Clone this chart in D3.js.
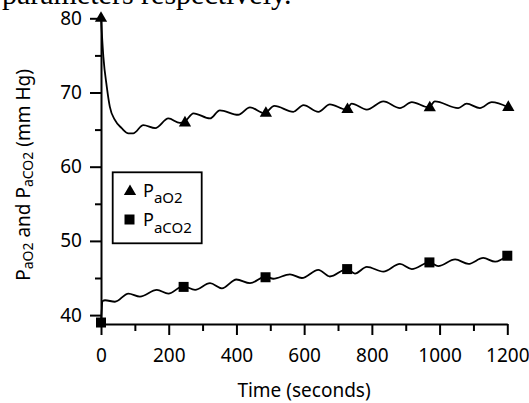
<!DOCTYPE html>
<html lang="en">
<head>
<meta charset="UTF-8">
<title>PaO2 and PaCO2</title>
<script src="https://d3js.org/d3.v7.min.js"></script>
<style>
  body { margin: 0; background: #fff; }
  svg { display: block; font-family: "Noto Sans", sans-serif; }
</style>
</head>
<body>
<div id="chart"></div>
<script>
// PaO2 curve (seconds, mm Hg) at peaks and troughs
const timeO2 = [0, 7, 17, 26, 41, 61, 81, 95, 125, 160, 199, 233, 248, 273, 322, 351, 405, 440, 482, 512, 568, 598, 642, 676, 725, 740, 785, 834, 883, 918, 968, 986, 1055, 1080, 1119, 1154, 1203];
const valueO2 = [80, 74.8, 70.8, 68.1, 66.3, 65.2, 64.5, 64.5, 65.6, 65.2, 66.5, 65.9, 66.1, 67.2, 66.5, 67.6, 67.0, 68.0, 67.2, 68.2, 67.4, 68.3, 67.4, 68.4, 67.7, 68.5, 67.7, 68.8, 67.9, 68.7, 68.0, 68.8, 67.9, 68.5, 67.9, 68.7, 68.0];

// PaCO2 curve
const timeCO2 = [0, 5, 12, 41, 81, 115, 165, 199, 243, 278, 322, 357, 400, 440, 487, 509, 558, 593, 642, 676, 726, 750, 785, 834, 883, 918, 970, 996, 1046, 1085, 1129, 1164, 1200];
const valueCO2 = [39, 41.9, 42.0, 41.8, 42.9, 42.5, 43.4, 42.9, 43.9, 43.4, 44.3, 43.6, 44.8, 44.3, 45.2, 44.9, 45.5, 45.0, 46.1, 45.2, 46.2, 45.6, 46.5, 45.85, 46.9, 46.2, 47.1, 46.6, 47.5, 46.9, 47.7, 47.2, 48.0];

// sampled points (markers)
const markTimeO2 = [0, 248, 487, 728, 971, 1203];
const markValueO2 = [80, 65.9, 67.2, 67.7, 67.95, 68.0];
const markTimeCO2 = [0, 244, 486, 727, 970, 1200];
const markValueCO2 = [39.0, 43.8, 45.1, 46.2, 47.1, 48.0];

const xMajor = [0, 200, 400, 600, 800, 1000, 1200];
const xMinor = [100, 300, 500, 700, 900, 1100];
const yMajor = [40, 50, 60, 70, 80];
const yMinor = [45, 55, 65, 75];

const W = 529, H = 403;

const svg = d3.select("#chart").append("svg")
  .attr("width", W)
  .attr("height", H);

// bit of the paper's text above the figure, cut by the crop
svg.append("text")
  .attr("x", 2)
  .attr("y", 4)
  .attr("font-family", "Liberation Serif, serif")
  .attr("font-size", 30)
  .text("parameters respectively.");

const x = d3.scaleLinear().domain([0, 1200]).range([101, 507.3]);
const y = d3.scaleLinear().domain([38.8, 80]).range([324, 18.3]);

// axes
const gx = svg.append("g").attr("transform", `translate(0,${y(38.8)})`);
gx.call(d3.axisBottom(x).tickValues(xMajor).tickSize(11).tickSizeOuter(0).tickPadding(14).tickFormat(d3.format("d")));
gx.append("g").call(d3.axisBottom(x).tickValues(xMinor).tickSize(7).tickFormat(""))
  .select(".domain").remove();

const gy = svg.append("g").attr("transform", `translate(${x(0)},0)`);
gy.call(d3.axisLeft(y).tickValues(yMajor).tickSize(11).tickSizeOuter(0).tickPadding(8));
gy.append("g").call(d3.axisLeft(y).tickValues(yMinor).tickSize(6).tickFormat(""))
  .select(".domain").remove();

svg.selectAll(".domain, .tick line")
  .attr("stroke", "#000")
  .attr("stroke-width", 2);
svg.selectAll(".tick text")
  .attr("font-family", "Noto Sans, sans-serif")
  .attr("font-size", 19)
  .attr("fill", "#000");

// axis titles
svg.append("text")
  .attr("x", 304)
  .attr("y", 396.5)
  .attr("text-anchor", "middle")
  .attr("font-size", 19)
  .text("Time (seconds)");

const yt = svg.append("text")
  .attr("transform", "translate(29.5,175) rotate(-90)")
  .attr("text-anchor", "middle")
  .attr("font-size", 19);
yt.append("tspan").text("P");
yt.append("tspan").attr("font-size", 14).attr("dy", 3).text("aO2");
yt.append("tspan").attr("dy", -3).text(" and P");
yt.append("tspan").attr("font-size", 14).attr("dy", 3).text("aCO2");
yt.append("tspan").attr("dy", -3).text(" (mm Hg)");

// lines
const line = d3.line()
  .x(d => x(d[0]))
  .y(d => y(d[1]))
  .curve(d3.curveMonotoneX);

const o2 = timeO2.map((t, i) => [t, valueO2[i]]);
const co2 = timeCO2.map((t, i) => [t, valueCO2[i]]);

svg.append("path")
  .datum(o2)
  .attr("fill", "none")
  .attr("stroke", "#000")
  .attr("stroke-width", 1.8)
  .attr("d", line);

svg.append("path")
  .datum(co2)
  .attr("fill", "none")
  .attr("stroke", "#000")
  .attr("stroke-width", 1.8)
  .attr("d", line);

// markers
const tri = d3.symbol().type(d3.symbolTriangle).size(65);
const sq = d3.symbol().type(d3.symbolSquare).size(100);

svg.selectAll(".tri")
  .data(markTimeO2)
  .enter().append("path")
  .attr("class", "tri")
  .attr("transform", (t, i) => `translate(${x(t)},${y(markValueO2[i])})`)
  .attr("d", tri);

svg.selectAll(".sq")
  .data(markTimeCO2)
  .enter().append("path")
  .attr("class", "sq")
  .attr("transform", (t, i) => `translate(${x(t)},${y(markValueCO2[i])})`)
  .attr("d", sq);

// legend
const legend = svg.append("g");
legend.append("rect")
  .attr("x", 112.7)
  .attr("y", 172.3)
  .attr("width", 89)
  .attr("height", 71)
  .attr("fill", "#fff")
  .attr("stroke", "#000")
  .attr("stroke-width", 1.8);

legend.append("path")
  .attr("transform", "translate(130,191.5)")
  .attr("d", tri);
legend.append("path")
  .attr("transform", "translate(129.5,219.5)")
  .attr("d", sq);

const l1 = legend.append("text").attr("x", 143).attr("y", 197).attr("font-size", 18);
l1.append("tspan").text("P");
l1.append("tspan").attr("font-size", 15).attr("dy", 6).text("aO2");

const l2 = legend.append("text").attr("x", 143).attr("y", 226).attr("font-size", 18);
l2.append("tspan").text("P");
l2.append("tspan").attr("font-size", 15).attr("dy", 7).text("aCO2");
</script>
</body>
</html>
